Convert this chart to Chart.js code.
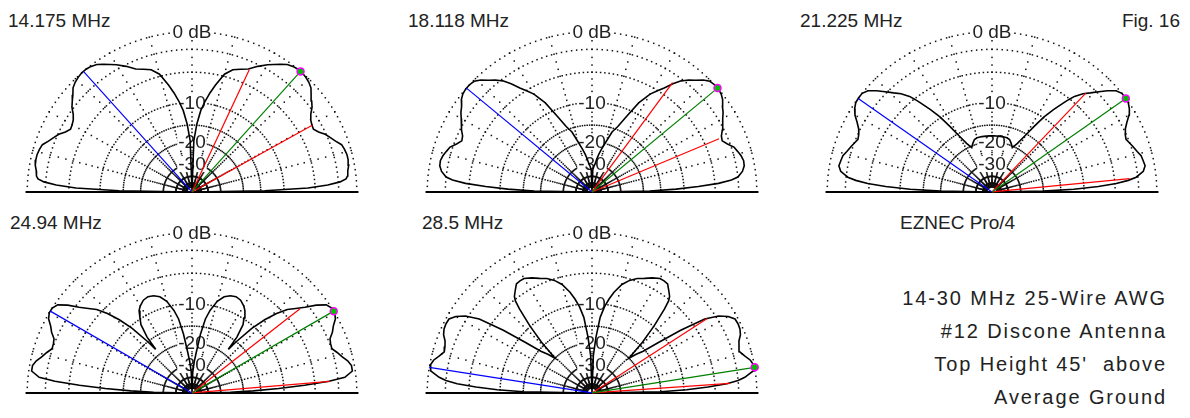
<!DOCTYPE html>
<html>
<head>
<meta charset="utf-8">
<title>Discone elevation patterns</title>
<script src="https://cdn.jsdelivr.net/npm/chart.js@4.4.0/dist/chart.umd.min.js"></script>
<style>
  body { margin: 0; background: #fff; }
  #page { position: relative; width: 1190px; height: 418px; overflow: hidden;
          font-family: "Liberation Sans", Arial, sans-serif; color: #222; }
  #page canvas { position: absolute; }
  .txt { position: absolute; font-size: 19px; white-space: nowrap; line-height: 22px; }
  .notes { position: absolute; right: 23px; top: 282px; font-size: 20px; line-height: 33px;
           text-align: right; letter-spacing: 1.9px; white-space: nowrap; }
</style>
</head>
<body>
<div id="page">
  <div class="txt" style="left:8px; top:10px;">14.175 MHz</div>
  <div class="txt" style="left:408px; top:10px;">18.118 MHz</div>
  <div class="txt" style="left:800px; top:10px;">21.225 MHz</div>
  <div class="txt" style="right:10px; top:10px;">Fig. 16</div>
  <div class="txt" style="left:10px; top:212px;">24.94 MHz</div>
  <div class="txt" style="left:422px; top:212px;">28.5 MHz</div>
  <div class="txt" style="left:900px; top:212px;">EZNEC Pro/4</div>
  <div class="notes">14-30 MHz 25-Wire AWG<br>#12 Discone Antenna<br>Top Height 45'&nbsp; above<br>Average Ground</div>

  <canvas id="p14" width="360" height="192"></canvas>
  <canvas id="p18" width="360" height="192"></canvas>
  <canvas id="p21" width="360" height="192"></canvas>
  <canvas id="p24" width="360" height="192"></canvas>
  <canvas id="p28" width="360" height="192"></canvas>
</div>

<script>
const elev = [0, 1, 2, 3, 4, 5, 6, 8, 10, 12, 14, 16, 18, 20, 22, 24, 26, 28, 30, 32, 34, 36, 38, 40,
              42, 44, 46, 48, 50, 51, 52, 54, 56, 58, 60, 63, 66, 69, 72, 75, 78, 80, 82, 84, 86, 88, 90];

// gain in dB below max, forward half (right) and back half (left)
const front14 = [-99, -14, -6, -3.3, -1.8, -1.1, -0.9, -0.8, -0.6, -0.55, -0.55, -0.65, -0.8, -1.3, -1.7, -2.1, -2.7, -3.1, -3.0, -2.8, -2.4, -1.8, -1.4, -1.0,
                 -0.5, -0.25, -0.1, 0, 0, -0.05, -0.1, -0.3, -0.7, -1.1, -1.5, -2.2, -3.0, -3.4, -3.8, -4.7, -6.6, -8.0, -9.6, -11.5, -14.6, -19.5, -99];
const back14  = [-99, -14, -6, -3.3, -1.8, -1.1, -0.9, -0.8, -0.6, -0.55, -0.55, -0.65, -0.8, -1.3, -1.7, -2.1, -2.7, -3.1, -3.0, -2.8, -2.4, -1.8, -1.4, -1.0,
                 -0.5, -0.25, -0.1, 0, 0, -0.05, -0.1, -0.3, -0.7, -1.1, -1.5, -2.2, -3.0, -3.4, -3.8, -4.7, -6.6, -8.0, -9.6, -11.5, -14.6, -19.5, -99];

const front18 = [-99, -18, -11.5, -7.5, -4.5, -2.8, -2.0, -1.4, -1.1, -1.05, -1.2, -1.45, -1.7, -2.3, -2.75, -2.6, -2.2, -1.85, -1.5, -1.1, -0.8, -0.35, -0.1, 0,
                 0, -0.1, -0.5, -1.1, -1.6, -1.9, -2.2, -3.1, -4.2, -5.1, -6.0, -8.1, -11.3, -14.2, -16.0, -19.5, -22.5, -24.5, -27, -30, -31.5, -34, -99];
const back18  = [-99, -18, -11.5, -7.5, -4.5, -2.8, -2.0, -1.4, -1.1, -1.05, -1.2, -1.45, -1.7, -2.3, -2.75, -2.6, -2.2, -1.85, -1.5, -1.1, -0.8, -0.35, -0.1, 0,
                 0, -0.1, -0.5, -1.1, -1.6, -1.9, -2.2, -3.1, -4.2, -5.1, -6.0, -8.1, -11.3, -14.2, -16.0, -19.5, -22.5, -24.5, -27, -30, -31.5, -34, -99];

const front21 = [-99, -20, -12, -7.5, -4.8, -3.2, -2.2, -1.3, -1.0, -1.1, -1.2, -1.5, -1.75, -2.0, -2.25, -2.1, -1.8, -1.3, -0.7, -0.3, -0.05, 0, 0, -0.3,
                 -1.0, -1.8, -2.6, -3.3, -4.3, -5.1, -6.0, -7.8, -9.8, -12.5, -15.2, -18.5, -20.5, -19.3, -18.3, -18, -18, -18, -18, -18, -18, -18, -18];
const back21  = [-99, -20, -12, -7.5, -4.8, -3.2, -2.2, -1.3, -1.0, -1.1, -1.2, -1.5, -1.75, -2.0, -2.25, -2.1, -1.8, -1.3, -0.7, -0.3, -0.05, 0, 0, -0.3,
                 -1.0, -1.8, -2.6, -3.3, -4.3, -5.1, -6.0, -7.8, -9.8, -12.5, -15.2, -18.5, -20.5, -19.3, -18.3, -18, -18, -18, -18, -18, -18, -18, -18];

const front24 = [-99, -25, -17, -11, -6.5, -3.1, -1.2, -0.3, -0.3, -0.6, -1.1, -1.5, -1.95, -1.9, -1.75, -1.2, -0.8, -0.25, 0, 0, -0.3, -1.2, -2.4, -3.4,
                 -4.3, -5.8, -7.8, -10.5, -15, -18, -14, -11, -9.8, -8.6, -8.0, -7.4, -7.2, -7.4, -7.9, -9.0, -11, -13, -17, -23, -28, -35, -99];
const back24  = [-99, -25, -17, -11, -6.5, -3.1, -1.2, -0.3, -0.3, -0.6, -1.1, -1.5, -1.95, -1.9, -1.75, -1.2, -0.8, -0.25, 0, 0, -0.3, -1.2, -2.4, -3.4,
                 -4.3, -5.8, -7.8, -10.5, -15, -18, -14, -11, -9.8, -8.6, -8.0, -7.4, -7.2, -7.4, -7.9, -9.0, -11, -13, -17, -23, -28, -35, -99];

const front28 = [-99, -15, -9.5, -6, -3.4, -2.0, -1.2, -0.2, -0.05, -0.3, -0.8, -1.2, -1.1, -0.9, -0.5, -0.3, -0.25, -0.3, -0.8, -1.7, -3.3, -7, -11.5, -15.5,
                 -17.5, -20, -14, -9.8, -6.5, -5.2, -4.6, -4.0, -3.4, -3.3, -3.3, -3.7, -4.2, -4.6, -5.2, -6.1, -7.6, -8.9, -10.5, -12.8, -18, -25, -99];
const back28  = [-99, -15, -9.5, -6, -3.4, -2.0, -1.2, -0.2, -0.05, -0.3, -0.8, -1.2, -1.1, -0.9, -0.5, -0.3, -0.25, -0.3, -0.8, -1.7, -3.3, -7, -11.5, -15.5,
                 -17.5, -20, -14, -9.8, -6.5, -5.2, -4.6, -4.0, -3.4, -3.3, -3.3, -3.7, -4.2, -4.6, -5.2, -6.1, -7.6, -8.9, -10.5, -12.8, -18, -25, -99];

// cursor lines: max gain direction (green, blue to the back) and the -3 dB points (red)
const maxElev   = [48.8, 40.4, 35.7, 30.7, 9.2];
const maxGain   = [0, 0, 0, 0, 0];
const lowElev   = [29.7, 23.3, 5.7, 4.9, 4.1];
const highElev  = [65.5, 54.4, 47.3, 38.7, 33.6];
const halfGain  = [-3, -3, -3, -3, -3];

// grid: rings (dB), spokes (deg) and the ring labels
const ringDb    = [0, -2, -5, -10, -15, -20, -30, -40, -50];
const spokeDeg  = [0, 15, 30, 45, 60, 75, 90, 105, 120, 135, 150, 165, 180];
const labelDb   = [0, -10, -20, -30];
const labelText = ['0 dB', '-10', '-20', '-30'];

// plot centres on the page
const centerX = [192, 592, 992, 192, 592];
const centerY = [197, 197, 197, 398, 398];

const R = 170;      // px for the 0 dB ring
const W = 360, H = 192, BELOW = 8;

// ARRL log scale: 0.89 of the radius per 2 dB
function radius(db) {
    return Math.pow(0.89, -db / 2);
}

function toXY(deg, db) {
    const r = radius(db);
    const a = deg * Math.PI / 180;
    return { x: r * Math.cos(a), y: r * Math.sin(a) };
}

const gridPlugin = {
    id: 'ezGrid',
    beforeDatasetsDraw(chart) {
        const ctx = chart.ctx;
        const xs = chart.scales.x, ys = chart.scales.y;
        const pix = (r, deg) => {
            const a = deg * Math.PI / 180;
            return [xs.getPixelForValue(r * Math.cos(a)), ys.getPixelForValue(r * Math.sin(a))];
        };
        ctx.save();
        ctx.fillStyle = '#111';

        // dotted rings, a dot every 2 degrees
        ringDb.forEach(db => {
            const r = radius(db);
            for (let a = 0; a <= 180; a += 2) {
                const p = pix(r, a);
                ctx.fillRect(p[0] - 0.75, p[1] - 0.75, 1.5, 1.5);
            }
        });

        // dotted spokes, a dot every dB
        spokeDeg.forEach(deg => {
            for (let db = 0; db >= -60; db--) {
                const p = pix(radius(db), deg);
                ctx.fillRect(p[0] - 0.75, p[1] - 0.75, 1.5, 1.5);
            }
        });

        // ground line
        const g0 = pix(1.01, 180), g1 = pix(1.01, 0);
        ctx.strokeStyle = '#000';
        ctx.lineWidth = 2;
        ctx.beginPath();
        ctx.moveTo(g0[0], g0[1]);
        ctx.lineTo(g1[0], g1[1]);
        ctx.stroke();

        // ring labels on the zenith spoke
        ctx.font = '19px "Liberation Sans", Arial, sans-serif';
        ctx.textAlign = 'center';
        ctx.textBaseline = 'middle';
        labelDb.forEach((db, i) => {
            const p = pix(radius(db), 90);
            const w = ctx.measureText(labelText[i]).width;
            ctx.fillStyle = '#fff';
            ctx.fillRect(p[0] - w / 2 - 1, p[1] - 8, w + 2, 16);
            ctx.fillStyle = '#222';
            ctx.fillText(labelText[i], p[0], p[1] + 1);
        });
        ctx.restore();
    }
};

function makePlot(id, k, front, back) {
    const pattern = [];
    for (let i = 0; i < elev.length; i++) {
        pattern.push(toXY(elev[i], front[i]));
    }
    for (let i = elev.length - 2; i >= 0; i--) {
        pattern.push(toXY(180 - elev[i], back[i]));
    }

    const canvas = document.getElementById(id);
    canvas.style.left = (centerX[k] - W / 2) + 'px';
    canvas.style.top = (centerY[k] - (H - BELOW)) + 'px';

    const line = (pts, color) => ({
        data: pts,
        showLine: true,
        borderColor: color,
        borderWidth: 1.2,
        pointRadius: 0,
        tension: 0
    });

    new Chart(canvas, {
        type: 'scatter',
        data: {
            datasets: [
                {
                    data: [{ x: 0, y: 0 }, toXY(maxElev[k], maxGain[k])],
                    showLine: true,
                    borderColor: '#008000',
                    borderWidth: 1.2,
                    pointRadius: [0, 3.5],
                    pointBackgroundColor: '#00c000',
                    pointBorderColor: '#ff00ff',
                    pointBorderWidth: 1.5
                },
                line([{ x: 0, y: 0 }, toXY(lowElev[k], halfGain[k])], '#ff0000'),
                line([{ x: 0, y: 0 }, toXY(highElev[k], halfGain[k])], '#ff0000'),
                line([{ x: 0, y: 0 }, toXY(180 - maxElev[k], maxGain[k])], '#0000ff'),
                {
                    data: pattern,
                    showLine: true,
                    borderColor: '#000',
                    borderWidth: 1.6,
                    pointRadius: 0,
                    tension: 0
                }
            ]
        },
        options: {
            responsive: false,
            devicePixelRatio: 1,
            animation: false,
            events: [],
            layout: { padding: 0 },
            plugins: {
                legend: { display: false },
                tooltip: { enabled: false }
            },
            scales: {
                x: { type: 'linear', display: false, min: -W / 2 / R, max: W / 2 / R },
                y: { type: 'linear', display: false, min: -BELOW / R, max: (H - BELOW) / R }
            }
        },
        plugins: [gridPlugin]
    });
}

makePlot('p14', 0, front14, back14);
makePlot('p18', 1, front18, back18);
makePlot('p21', 2, front21, back21);
makePlot('p24', 3, front24, back24);
makePlot('p28', 4, front28, back28);
</script>
</body>
</html>
